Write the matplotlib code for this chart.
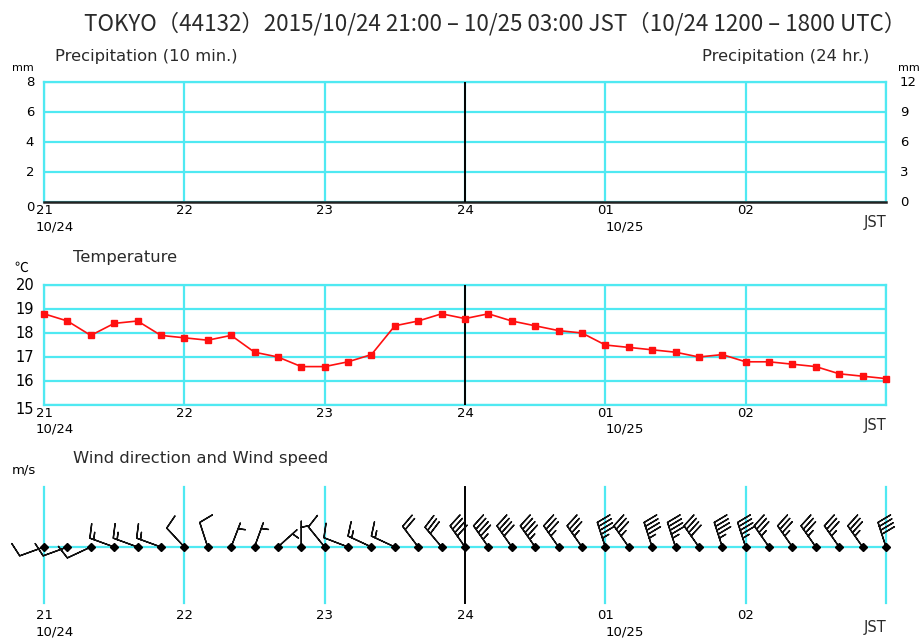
import numpy as np
import matplotlib
matplotlib.use("Agg")
import matplotlib.pyplot as plt

plt.rcParams['font.family'] = ['Noto Sans CJK JP', 'DejaVu Sans']

# ---- data -------------------------------------------------------------
hour_ticks = [0, 1, 2, 3, 4, 5, 6]
hour_labels = ["21", "22", "23", "24", "01", "02", ""]
date_labels = {0: "10/24", 4: "10/25"}

precip_left_ticks = [0, 2, 4, 6, 8]
precip_right_ticks = [0, 3, 6, 9, 12]

temp_ticks = [15, 16, 17, 18, 19, 20]
temperature = [18.8, 18.5, 17.9, 18.4, 18.5, 17.9, 17.8, 17.7, 17.9, 17.2,
               17.0, 16.6, 16.6, 16.8, 17.1, 18.3, 18.5, 18.8, 18.6, 18.8,
               18.5, 18.3, 18.1, 18.0, 17.5, 17.4, 17.3, 17.2, 17.0, 17.1,
               16.8, 16.8, 16.7, 16.6, 16.3, 16.2, 16.1]

wind_dir = [250, 250, 245, 290, 290, 290, 317, 342, 21, 20, 48, 0,
            321, 291, 295, 295, 323, 320, 325, 325, 325, 325, 325, 325,
            342, 325, 342, 342, 325, 342, 342, 325, 325, 325, 325, 325, 342]
wind_speed = [2, 2, 2, 3, 3, 3, 2, 2, 1, 1, 1, 1,
              2, 2, 3, 3, 4, 6, 8, 9, 8, 9, 7, 7,
              9, 7, 9, 9, 8, 9, 9, 7, 7, 7, 7, 7, 8]

times = np.arange(len(temperature)) / 6.0

CYAN = '#4fe9f2'
TXT = '#2a2a2a'
W, H = 921, 641

fig = plt.figure(figsize=(W / 100, H / 100), dpi=100)


def axes_px(x0, y0, x1, y1):
    return fig.add_axes([x0 / W, 1 - y1 / H, (x1 - x0) / W, (y1 - y0) / H])


def hour_labels_below(ax, y_hour, y_date):
    for t, lab in zip(hour_ticks, hour_labels):
        if lab:
            ax.text(t, y_hour, lab, transform=ax.get_xaxis_transform(),
                    ha='center', va='top', fontsize=9.5, family='DejaVu Sans')
    for t, lab in date_labels.items():
        ax.text(t - 0.06 if t == 0 else t, y_date, lab,
                transform=ax.get_xaxis_transform(),
                ha='left', va='top', fontsize=9.5, family='DejaVu Sans')
    ax.text(6, y_hour - 0.09, "JST", transform=ax.get_xaxis_transform(),
            ha='right', va='top', fontsize=10.5, family='DejaVu Sans', color=TXT)


# ---- title ------------------------------------------------------------
fig.text(495 / W, 1 - 24 / H,
         "TOKYO（44132）2015/10/24 21:00 – 10/25 03:00 JST（10/24 1200 – 1800 UTC）",
         ha='center', va='center', fontsize=16.1, color=TXT)

# ---- precipitation panel ---------------------------------------------
ax1 = axes_px(44, 82, 886, 202)
ax1.set_xlim(0, 6)
ax1.set_ylim(0, 8)
for s in ['left', 'top', 'right']:
    ax1.spines[s].set_color(CYAN)
    ax1.spines[s].set_linewidth(1.6)
ax1.spines['bottom'].set_color('#222222')
ax1.spines['bottom'].set_linewidth(1.8)
ax1.set_xticks(hour_ticks)
ax1.set_yticks(precip_left_ticks)
ax1.grid(True, color=CYAN, lw=1.6)
ax1.tick_params(length=0, labelbottom=False, labelleft=False)
ax1.axvline(3, color='black', lw=1.4, zorder=3)
for v in precip_left_ticks:
    ax1.text(-0.07, v - (0.35 if v == 0 else 0), str(v), ha='right', va='center',
             fontsize=9.5, family='DejaVu Sans', transform=ax1.transData)
ax1r = ax1.twinx()
ax1r.set_ylim(0, 12)
ax1r.set_yticks(precip_right_ticks)
ax1r.tick_params(length=0, labelright=False)
for s in ax1r.spines.values():
    s.set_visible(False)
for v in precip_right_ticks:
    ax1r.text(6.1, v, str(v), ha='left', va='center',
              fontsize=9.5, family='DejaVu Sans', transform=ax1r.transData)
fig.text(12 / W, 1 - 68 / H, "mm", fontsize=8, va='center', family='DejaVu Sans')
fig.text(898 / W, 1 - 68 / H, "mm", fontsize=8, va='center', family='DejaVu Sans')
fig.text(55 / W, 1 - 57 / H, "Precipitation (10 min.)", fontsize=11.8,
         va='center', color=TXT, family='DejaVu Sans')
fig.text(869 / W, 1 - 57 / H, "Precipitation (24 hr.)", fontsize=11.8,
         va='center', ha='right', color=TXT, family='DejaVu Sans')
hour_labels_below(ax1, -0.02, -0.15)

# ---- temperature panel -----------------------------------------------
ax2 = axes_px(44, 285, 886, 405)
ax2.set_xlim(0, 6)
ax2.set_ylim(15, 20)
for s in ax2.spines.values():
    s.set_color(CYAN)
    s.set_linewidth(1.6)
ax2.set_xticks(hour_ticks)
ax2.set_yticks(temp_ticks)
ax2.grid(True, color=CYAN, lw=1.6)
ax2.tick_params(length=0, labelbottom=False, labelleft=False)
ax2.axvline(3, color='black', lw=1.4, zorder=3)
ax2.plot(times, temperature, color='#ff1010', lw=1.2, marker='s', ms=4,
         zorder=4, clip_on=False)
for v in temp_ticks:
    ax2.text(-0.07, v - (0.2 if v == 15 else 0), str(v), ha='right', va='center',
             fontsize=10.5, family='DejaVu Sans', transform=ax2.transData)
fig.text(14 / W, 1 - 268 / H, "℃", fontsize=10, va='center')
fig.text(73 / W, 1 - 258 / H, "Temperature", fontsize=11.8, va='center',
         color=TXT, family='DejaVu Sans')
hour_labels_below(ax2, -0.02, -0.15)

# ---- wind panel ------------------------------------------------------
ax3 = axes_px(44, 487, 886, 603)
ax3.set_xlim(0, 6)
ax3.set_ylim(-56, 60)
for s in ax3.spines.values():
    s.set_visible(False)
ax3.set_xticks([])
ax3.set_yticks([])
for t in hour_ticks:
    ax3.axvline(t, color='black' if t == 3 else CYAN, lw=1.4 if t == 3 else 1.6,
                zorder=1, clip_on=False)
ax3.axhline(0, color=CYAN, lw=1.6, zorder=1)
d = np.deg2rad(np.array(wind_dir, dtype=float))
spd = np.array(wind_speed, dtype=float)
u = -spd * np.sin(d)
v = -spd * np.cos(d)
ax3.barbs(times, np.zeros_like(times), u, v, length=6.1, pivot='tip',
          barb_increments=dict(half=1, full=2, flag=10),
          sizes=dict(spacing=0.16, height=0.55, width=0.25),
          color='#111111', lw=1.0, zorder=3, clip_on=False)
ax3.plot(times, np.zeros_like(times), ls='none', marker='D', ms=4.5,
         color='black', zorder=4, clip_on=False)
fig.text(12 / W, 1 - 470 / H, "m/s", fontsize=9.5, va='center', family='DejaVu Sans')
fig.text(73 / W, 1 - 459 / H, "Wind direction and Wind speed", fontsize=11.8,
         va='center', color=TXT, family='DejaVu Sans')
hour_labels_below(ax3, -0.055, -0.19)

fig.savefig("out.png", dpi=100)
